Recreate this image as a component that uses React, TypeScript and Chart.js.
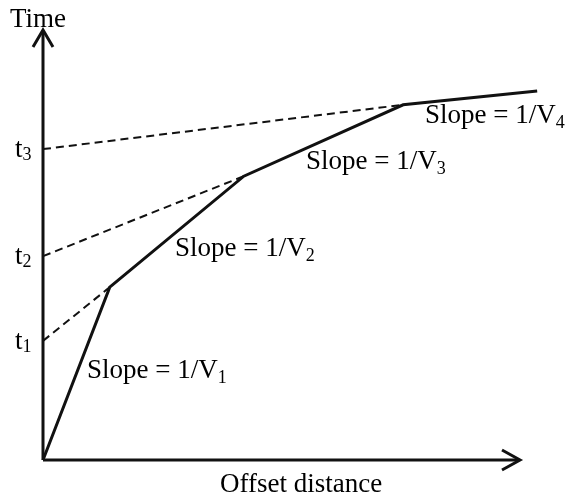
import React, { useEffect, useRef } from "react";
import { Chart, registerables } from "chart.js";

Chart.register(...registerables);

// Offset distance of the break points (arbitrary units) and travel time
const distance = [0, 14.0, 42.1, 75.5, 103.6];
const time = [0, 40.2, 66.0, 82.6, 85.8];
// Intercept times t1, t2, t3
const interceptLabels = ["1", "2", "3"];
const interceptTimes = [27.7, 47.4, 72.3];
// Slope labels
const slopeSubs = ["1", "2", "3", "4"];
// Axis extents
const axisXMax = 100;
const axisYMax = 100;

const FONT = "'Liberation Serif', 'Times New Roman', serif";

const drawPlugin = {
  id: "schematic",
  afterDraw(chart: any) {
    const ctx = chart.ctx as CanvasRenderingContext2D;
    const xs = chart.scales.x;
    const ys = chart.scales.y;
    const ox = xs.getPixelForValue(0);
    const oy = ys.getPixelForValue(0);
    const tx = xs.getPixelForValue(axisXMax);
    const ty = ys.getPixelForValue(axisYMax);
    ctx.save();
    ctx.strokeStyle = "#111";
    ctx.lineWidth = 3;
    ctx.lineCap = "butt";
    ctx.lineJoin = "miter";
    // axes
    ctx.beginPath();
    ctx.moveTo(ox, oy);
    ctx.lineTo(ox, ty + 1);
    ctx.moveTo(ox, oy);
    ctx.lineTo(tx - 1, oy);
    ctx.stroke();
    // arrowheads
    ctx.beginPath();
    ctx.moveTo(ox - 10, ty + 17);
    ctx.lineTo(ox, ty);
    ctx.lineTo(ox + 10, ty + 17);
    ctx.moveTo(tx - 18, oy - 10);
    ctx.lineTo(tx, oy);
    ctx.lineTo(tx - 18, oy + 10);
    ctx.stroke();

    // text
    ctx.fillStyle = "#000";
    ctx.textBaseline = "alphabetic";
    ctx.textAlign = "left";
    const big = `27px ${FONT}`;
    const sub = `18px ${FONT}`;
    ctx.font = big;
    ctx.fillText("Time", 10, 27);
    ctx.fillText("Offset distance", 220, 492);

    // intercept labels
    interceptTimes.forEach((t, i) => {
      const py = ys.getPixelForValue(t);
      ctx.font = big;
      ctx.fillText("t", 15, py + 8);
      const w = ctx.measureText("t").width;
      ctx.font = sub;
      ctx.fillText(interceptLabels[i], 15 + w, py + 11);
    });

    const slopePos = [
      [87, 378],
      [175, 256],
      [306, 169],
      [425, 123],
    ];
    slopeSubs.forEach((s, i) => {
      const [lx, ly] = slopePos[i];
      ctx.font = big;
      const txt = "Slope = 1/V";
      ctx.fillText(txt, lx, ly);
      const w = ctx.measureText(txt).width;
      ctx.font = sub;
      ctx.fillText(s, lx + w, ly + 5);
    });
    ctx.restore();
  },
};

export default function App() {
  const ref = useRef<HTMLCanvasElement>(null);
  useEffect(() => {
    if (!ref.current) return;
    const solid = distance.map((d, i) => ({ x: d, y: time[i] }));
    const dashed = interceptTimes.map((t, i) => ({
      label: "t" + interceptLabels[i],
      data: [
        { x: 0, y: t },
        { x: distance[i + 1], y: time[i + 1] },
      ],
      borderColor: "#111",
      borderWidth: 2,
      borderDash: [8, 5],
      pointRadius: 0,
      clip: false as any,
    }));
    const chart = new Chart(ref.current, {
      type: "line",
      data: {
        datasets: [
          {
            label: "travel time",
            data: solid,
            borderColor: "#111",
            borderWidth: 3,
            pointRadius: 0,
            clip: false as any,
          },
          ...dashed,
        ],
      },
      options: {
        animation: false,
        responsive: false,
        layout: { padding: { left: 43, right: 45, top: 30, bottom: 40 } },
        plugins: { legend: { display: false }, tooltip: { enabled: false } },
        scales: {
          x: { type: "linear", min: 0, max: axisXMax, display: false },
          y: { type: "linear", min: 0, max: axisYMax, display: false },
        },
      },
      plugins: [drawPlugin],
    });
    return () => chart.destroy();
  }, []);
  return (
    <div style={{ position: "absolute", left: 0, top: 0, width: 565, height: 500, background: "#fff" }}>
      <canvas ref={ref} width={565} height={500} style={{ width: 565, height: 500 }} />
    </div>
  );
}
